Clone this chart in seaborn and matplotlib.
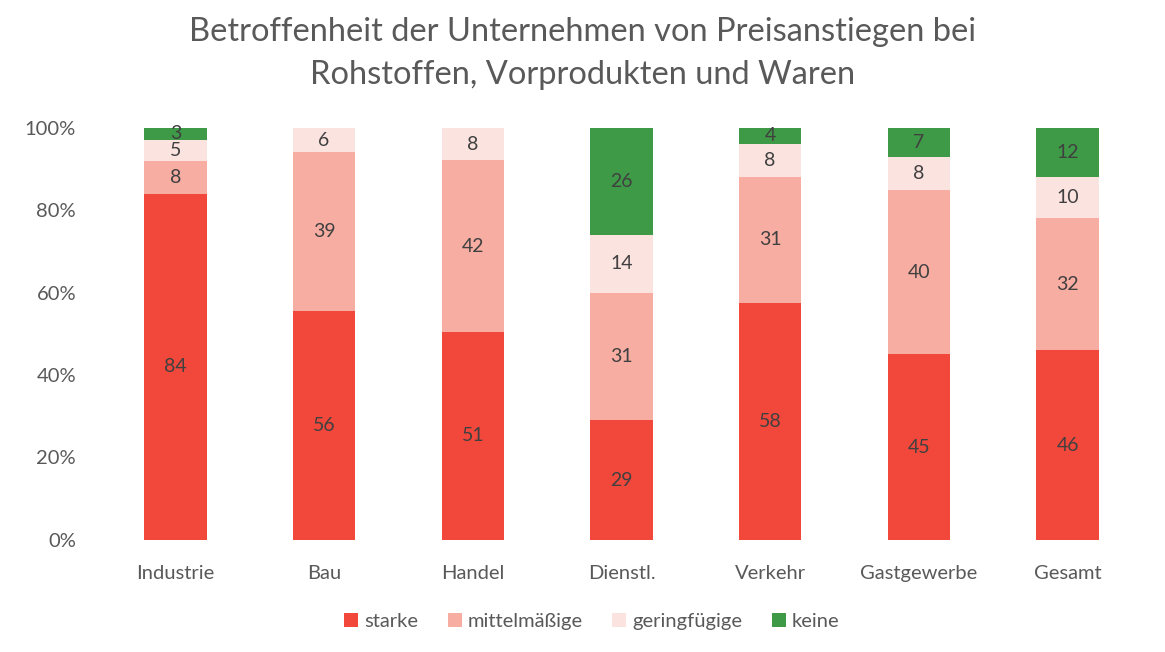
import matplotlib
matplotlib.use("Agg")
import matplotlib.pyplot as plt
import seaborn as sns
import numpy as np
import pandas as pd
from matplotlib.ticker import PercentFormatter
from matplotlib.patches import Patch

categories = ["Industrie", "Bau", "Handel", "Dienstl.", "Verkehr", "Gastgewerbe", "Gesamt"]
starke = [84, 56, 51, 29, 58, 45, 46]
mittel = [8, 39, 42, 31, 31, 40, 32]
gering = [5, 6, 8, 14, 8, 8, 10]
keine = [3, 0, 0, 26, 4, 7, 12]
series_names = ["starke", "mittelmäßige", "geringfügige", "keine"]
colors = ["#F2483C", "#F8ADA2", "#FBE3DF", "#3E9A47"]

sns.set_theme(style="white")
plt.rcParams["font.family"] = ["Lato", "DejaVu Sans"]

data = np.array([starke, mittel, gering, keine], dtype=float)
totals = data.sum(axis=0)
pct = data / totals * 100

fig = plt.figure(figsize=(11.65, 6.52), dpi=100)
ax = fig.add_axes([0.0867, 0.172, 0.8935, 0.632])

bottom = np.zeros(len(categories))
for i, name in enumerate(series_names):
    df = pd.DataFrame({"cat": categories, "val": pct[i]})
    sns.barplot(data=df, x="cat", y="val", color=colors[i], bottom=bottom,
                width=0.42, ax=ax, saturation=1, linewidth=0)
    cont = ax.containers[-1]
    labels = [f"{int(v)}" if v > 0 else "" for v in data[i]]
    ax.bar_label(cont, labels=labels, label_type="center", fontsize=14,
                 color="#404040")
    bottom = bottom + pct[i]

ax.set_xlim(-0.5, 6.5)
ax.set_ylim(0, 100)
ax.set_yticks([0, 20, 40, 60, 80, 100])
ax.yaxis.set_major_formatter(PercentFormatter(decimals=0))
ax.set_xlabel("")
ax.set_ylabel("")
for s in ax.spines.values():
    s.set_visible(False)
ax.tick_params(axis="both", length=0, labelsize=14.5, colors="#595959")
ax.tick_params(axis="x", pad=18)
ax.tick_params(axis="y", pad=18)

fig.text(0.5, 1 - 53.5 / 652,
         "Betroffenheit der Unternehmen von Preisanstiegen bei\nRohstoffen, Vorprodukten und Waren",
         ha="center", va="center", fontsize=23.5, color="#595959", linespacing=1.52)

handles = [Patch(facecolor=c, edgecolor="none") for c in colors]
fig.legend(handles, series_names, loc="center", bbox_to_anchor=(0.508, 0.047),
           ncol=4, frameon=False, fontsize=14.5, labelcolor="#595959",
           handlelength=0.7, handleheight=0.7, handletextpad=0.3, columnspacing=1.45)

fig.savefig("out.png", dpi=100)
